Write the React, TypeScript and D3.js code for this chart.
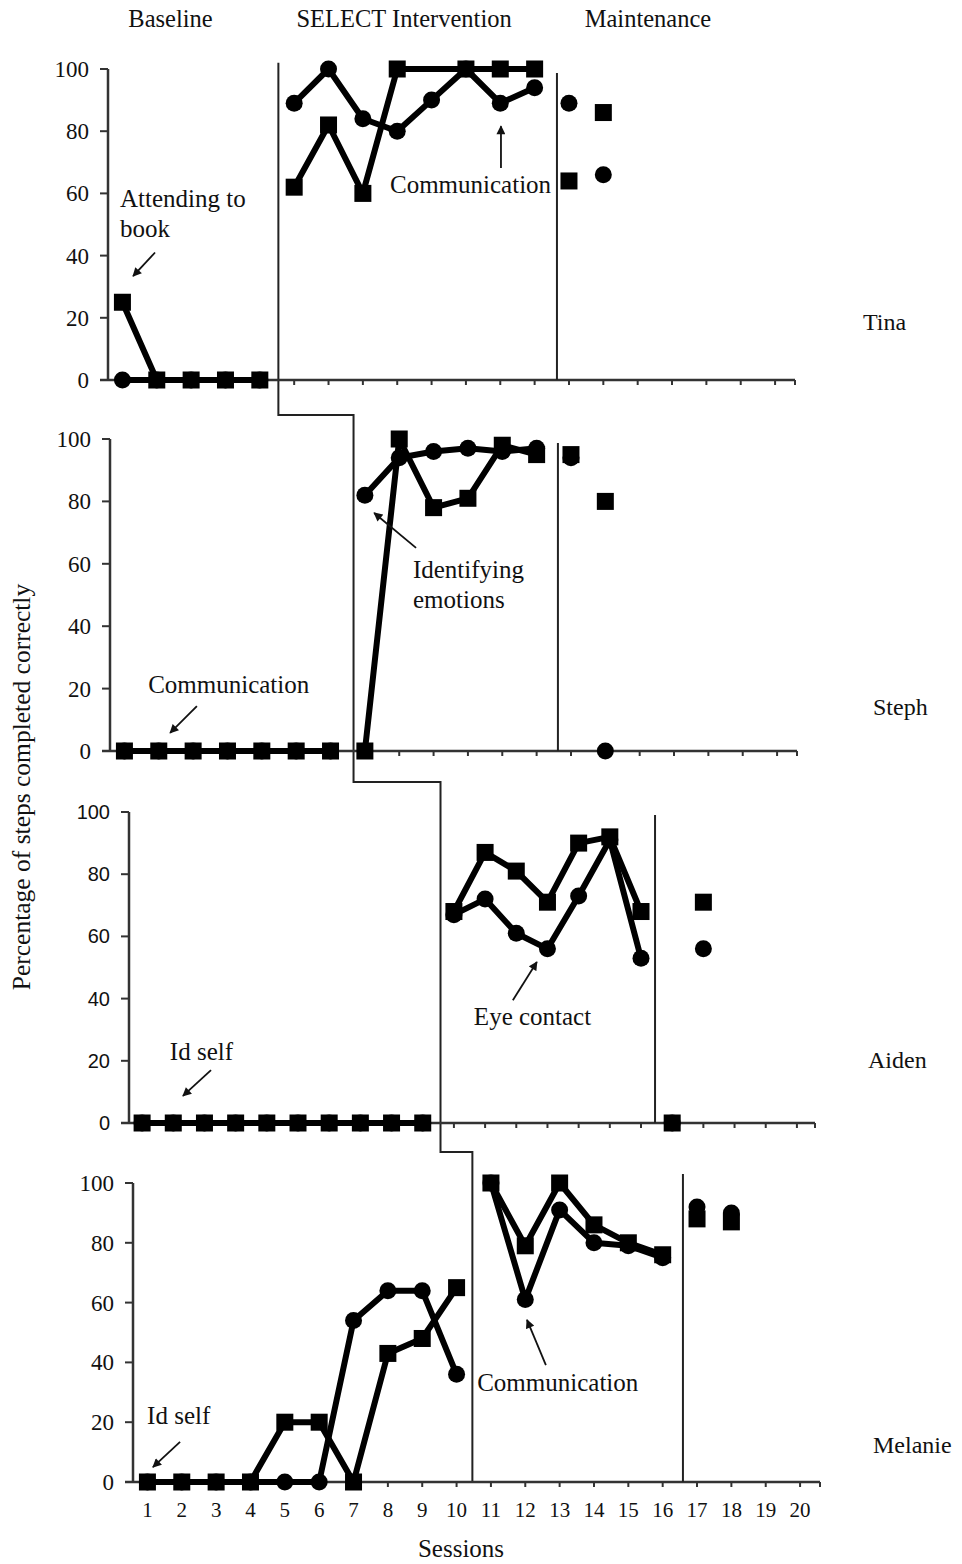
import React from "react";
import * as d3 from "d3";

// phase titles and participant names
const phaseLabels = ["Baseline", "SELECT Intervention", "Maintenance"];
const phaseLabelSessions = [2.4, 9.2, 16.3];
const participants = ["Tina", "Steph", "Aiden", "Melanie"];
const yTicks = [0, 20, 40, 60, 80, 100];
const sessionLabels = ["1", "2", "3", "4", "5", "6", "7", "8", "9", "10", "11", "12", "13", "14", "15", "16", "17", "18", "19", "20"];

// percentage of steps completed correctly, one value per session (null = no data)
const tinaCircle = [0, 0, 0, 0, 0, 89, 100, 84, 80, 90, 100, 89, 94, 89, 66];
const tinaSquare = [25, 0, 0, 0, 0, 62, 82, 60, 100, null, 100, 100, 100, 64, 86];
const stephCircle = [0, 0, 0, 0, 0, 0, 0, 82, 94, 96, 97, 96, 97, 94, 0];
const stephSquare = [0, 0, 0, 0, 0, 0, 0, 0, 100, 78, 81, 98, 95, 95, 80];
const aidenCircle = [0, 0, 0, 0, 0, 0, 0, 0, 0, 0, 67, 72, 61, 56, 73, 91, 53, 0, 56];
const aidenSquare = [0, 0, 0, 0, 0, 0, 0, 0, 0, 0, 68, 87, 81, 71, 90, 92, 68, 0, 71];
const melanieCircle = [0, 0, 0, 0, 0, 0, 54, 64, 64, 36, 100, 61, 91, 80, 79, 75, 92, 90];
const melanieSquare = [0, 0, 0, 0, 20, 20, 0, 43, 48, 65, 100, 79, 100, 86, 80, 76, 88, 87];

// last session of baseline and of intervention
const tinaPhases = [5, 13];
const stephPhases = [7, 13];
const aidenPhases = [10, 17];
const melaniePhases = [10, 16];

// phase change lines, in session units
const tinaChangeLines = [5.54, 13.65];
const stephChangeLines = [7.67, 13.62];
const aidenChangeLines = [10.57, 17.45];
const melanieChangeLines = [10.46, 16.59];

// annotations: text lines, anchor (session, value), arrow from -> to
const tinaNotes = [
  { text: ["Attending to", "book"], s: 0.93, v: 55.6, arrow: [1.95, 41, 1.31, 33.4] },
  { text: ["Communication"], s: 8.79, v: 60.1, arrow: [12.02, 68.2, 12.02, 81.6] },
];
const stephNotes = [
  { text: ["Communication"], s: 1.69, v: 18.6, arrow: [3.11, 14.4, 2.33, 5.8] },
  { text: ["Identifying", "emotions"], s: 9.4, v: 55.4, arrow: [9.49, 65.1, 8.27, 76.3] },
];
const aidenNotes = [
  { text: ["Id self"], s: 1.89, v: 20.3, arrow: [3.21, 17, 2.31, 8.7] },
  { text: ["Eye contact"], s: 11.64, v: 31.5, arrow: [12.89, 39.5, 13.66, 51.8] },
];
const melanieNotes = [
  { text: ["Id self"], s: 0.99, v: 19.4, arrow: [1.95, 13.4, 1.16, 5] },
  { text: ["Communication"], s: 10.6, v: 30.4, arrow: [12.6, 39.1, 12.05, 54.2] },
];

const width = 962;
const height = 1564;
const serif = "'Liberation Serif', 'Times New Roman', serif";
const sans = "'Liberation Sans', Arial, sans-serif";

const panels = [
  { name: participants[0], circle: tinaCircle, square: tinaSquare, phases: tinaPhases, lines: tinaChangeLines, notes: tinaNotes,
    left: 108, right: 795, top: 69, bottom: 380, sessions: 20, nameX: 863, nameY: 330, tickFont: serif, interTop: 102, maintTop: 98.7, drop: 35 },
  { name: participants[1], circle: stephCircle, square: stephSquare, phases: stephPhases, lines: stephChangeLines, notes: stephNotes,
    left: 110, right: 797, top: 439, bottom: 751, sessions: 20, nameX: 873, nameY: 715, tickFont: serif, interTop: 0, maintTop: 98.7, drop: 31 },
  { name: participants[2], circle: aidenCircle, square: aidenSquare, phases: aidenPhases, lines: aidenChangeLines, notes: aidenNotes,
    left: 129, right: 815, top: 812, bottom: 1123, sessions: 22, nameX: 868, nameY: 1068, tickFont: sans, interTop: 0, maintTop: 99, drop: 29 },
  { name: participants[3], circle: melanieCircle, square: melanieSquare, phases: melaniePhases, lines: melanieChangeLines, notes: melanieNotes,
    left: 133, right: 820, top: 1183, bottom: 1482, sessions: 20, nameX: 873, nameY: 1453, tickFont: serif, interTop: 0, maintTop: 103, drop: 0 },
];

const scales = panels.map((p) => ({
  x: d3.scaleLinear().domain([0.58, p.sessions + 0.58]).range([p.left, p.right]),
  y: d3.scaleLinear().domain([0, 100]).range([p.bottom, p.top]),
}));

const line = d3.line<[number, number]>();

function segments(values: (number | null)[], phases: number[]) {
  // baseline and intervention are connected; maintenance is not
  const ranges = [[1, phases[0]], [phases[0] + 1, phases[1]]];
  return ranges.map(([a, b]) =>
    values
      .map((v, i) => ({ s: i + 1, v }))
      .filter((d) => d.s >= a && d.s <= b && d.v !== null)
  );
}

function Panel({ p, i }: { p: (typeof panels)[number]; i: number }) {
  const { x, y } = scales[i];
  const series = [
    { key: "circle", values: p.circle },
    { key: "square", values: p.square },
  ];
  return (
    <g>
      {/* y axis */}
      <line x1={p.left} x2={p.left} y1={y(100)} y2={y(0)} stroke="#333" strokeWidth={2.5} />
      {yTicks.map((t) => (
        <g key={t}>
          <line x1={p.left - 8} x2={p.left} y1={y(t)} y2={y(t)} stroke="#333" strokeWidth={2} />
          <text x={p.left - 19} y={y(t)} dy="0.35em" textAnchor="end" fontFamily={p.tickFont}
            fontSize={p.tickFont === sans ? 20 : 23} fill="#111">{t}</text>
        </g>
      ))}
      {/* x axis */}
      <line x1={p.left - 8} x2={p.right} y1={y(0)} y2={y(0)} stroke="#333" strokeWidth={2.5} />
      {d3.range(1, p.sessions + 1).map((s) => (
        <line key={s} x1={x(s)} x2={x(s)} y1={y(0)} y2={y(0) + 5} stroke="#333" strokeWidth={2} />
      ))}
      <line x1={p.right} x2={p.right} y1={y(0)} y2={y(0) + 5} stroke="#333" strokeWidth={2} />
      {i === 3 && sessionLabels.map((l, k) => (
        <text key={l} x={x(k + 1)} y={y(0) + 35} textAnchor="middle" fontFamily={serif} fontSize={21} fill="#111">{l}</text>
      ))}
      {/* maintenance phase line */}
      <line x1={x(p.lines[1])} x2={x(p.lines[1])} y1={y(p.maintTop)} y2={y(0)} stroke="#222" strokeWidth={2} />
      {/* data */}
      {series.map((sr) => (
        <g key={sr.key}>
          {segments(sr.values, p.phases).map((seg, k) => (
            <path key={k} d={line(seg.map((d) => [x(d.s), y(d.v as number)]) as [number, number][]) || ""}
              fill="none" stroke="#000" strokeWidth={6} strokeLinejoin="round" />
          ))}
          {sr.values.map((v, k) =>
            v === null ? null : sr.key === "circle" ? (
              <circle key={k} cx={x(k + 1)} cy={y(v)} r={8.5} fill="#000" />
            ) : (
              <rect key={k} x={x(k + 1) - 8.5} y={y(v) - 8.5} width={17} height={17} fill="#000" />
            )
          )}
        </g>
      ))}
      {/* annotations */}
      {p.notes.map((n, k) => (
        <g key={k}>
          <text x={x(n.s)} y={y(n.v)} fontFamily={serif} fontSize={25} fill="#111">
            {n.text.map((t, j) => (
              <tspan key={j} x={x(n.s)} dy={j === 0 ? 0 : 30}>{t}</tspan>
            ))}
          </text>
          <line x1={x(n.arrow[0])} y1={y(n.arrow[1])} x2={x(n.arrow[2])} y2={y(n.arrow[3])}
            stroke="#111" strokeWidth={1.8} markerEnd="url(#arrowHead)" />
        </g>
      ))}
      <text x={p.nameX} y={p.nameY} fontFamily={serif} fontSize={24} fill="#111">{p.name}</text>
    </g>
  );
}

export default function App() {
  // staircase intervention line across all panels
  const stairPts: [number, number][] = [];
  panels.forEach((p, i) => {
    const { x, y } = scales[i];
    const xi = x(p.lines[0]);
    if (i === 0) stairPts.push([xi, y(p.interTop)]);
    else stairPts.push([xi, scales[i - 1].y(0) + panels[i - 1].drop]);
    stairPts.push([xi, y(0) + p.drop]);
  });

  const tx = scales[0].x;
  return (
    <div style={{ position: "absolute", left: 0, top: 0 }}>
      <svg width={width} height={height} style={{ display: "block", background: "#fff" }}>
        <defs>
          <marker id="arrowHead" viewBox="0 0 10 10" refX="9" refY="5" markerWidth={10} markerHeight={9}
            markerUnits="userSpaceOnUse" orient="auto">
            <path d="M0,0 L10,5 L0,10 z" fill="#111" />
          </marker>
        </defs>
        <rect width={width} height={height} fill="#fff" />
        {phaseLabels.map((l, k) => (
          <text key={l} x={tx(phaseLabelSessions[k])} y={27} textAnchor="middle" fontFamily={serif} fontSize={24.5} fill="#111">{l}</text>
        ))}
        <path d={line(stairPts) || ""} fill="none" stroke="#222" strokeWidth={2} />
        {panels.map((p, i) => (
          <Panel key={p.name} p={p} i={i} />
        ))}
        <text transform="translate(30,787) rotate(-90)" textAnchor="middle" fontFamily={serif} fontSize={25.5} fill="#111">
          Percentage of steps completed correctly
        </text>
        <text x={461} y={1557} textAnchor="middle" fontFamily={serif} fontSize={25} fill="#111">Sessions</text>
      </svg>
    </div>
  );
}
